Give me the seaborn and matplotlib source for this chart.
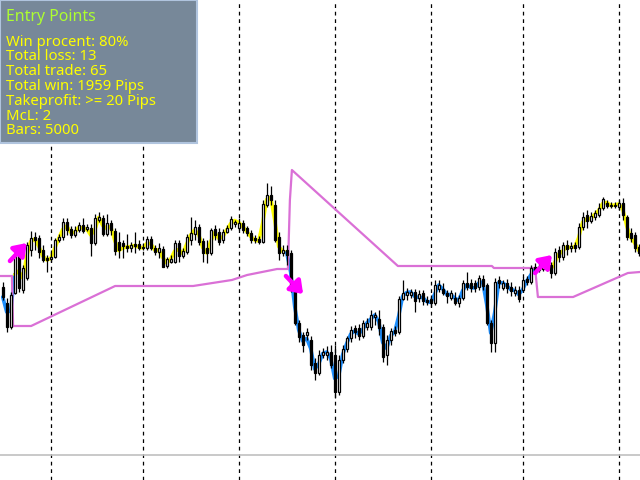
import numpy as np
import pandas as pd
import matplotlib
matplotlib.use("Agg")
import matplotlib.pyplot as plt
import seaborn as sns
from matplotlib.patches import Rectangle

# Candles, in screen units (smaller number = higher price)
opens = [287, 303, 327, 293, 254, 290, 278, 250, 237, 238, 250, 258, 259, 257, 240, 237,
         222, 229, 235, 230, 225, 229, 228, 243, 220, 218, 234, 223, 231, 242, 243, 246,
         248, 244, 244, 247, 248, 239, 248, 252, 249, 266, 262, 262, 243, 256, 252, 240,
         234, 227, 241, 248, 253, 229, 232, 240, 232, 228, 224, 228, 223, 228, 233, 238,
         239, 242, 205, 195, 205, 237, 253, 250, 253, 285, 323, 335, 335, 340, 363, 373,
         355, 355, 352, 355, 392, 360, 349, 338, 328, 328, 336, 327, 327, 317, 319, 327,
         355, 340, 330, 332, 299, 295, 295, 292, 298, 293, 300, 299, 303, 289, 289, 293,
         298, 298, 303, 298, 283, 283, 283, 287, 279, 285, 323, 343, 280, 288, 283, 287,
         293, 290, 290, 279, 282, 267, 270, 269, 269, 265, 273, 250, 257, 245, 248, 245,
         247, 227, 215, 221, 217, 215, 208, 203, 206, 206, 207, 203, 217, 233, 235, 247]
closes = [297, 327, 295, 254, 288, 268, 245, 238, 240, 252, 260, 260, 257, 240, 237, 222,
          230, 235, 230, 225, 231, 227, 243, 218, 217, 234, 223, 230, 251, 250, 246, 248,
          245, 246, 248, 248, 239, 248, 252, 248, 267, 259, 259, 243, 256, 251, 237, 233,
          227, 242, 253, 253, 230, 235, 242, 232, 228, 219, 222, 223, 230, 233, 240, 240,
          242, 204, 195, 200, 240, 253, 250, 255, 290, 323, 337, 345, 332, 365, 373, 355,
          352, 352, 365, 392, 360, 349, 338, 330, 332, 336, 323, 323, 315, 315, 328, 357,
          340, 331, 333, 299, 293, 292, 292, 301, 294, 301, 302, 303, 285, 285, 293, 296,
          293, 303, 298, 283, 287, 288, 288, 278, 286, 323, 343, 282, 283, 283, 288, 291,
          290, 299, 280, 282, 268, 270, 267, 266, 266, 273, 252, 257, 245, 249, 246, 248,
          227, 217, 221, 216, 213, 208, 199, 206, 205, 205, 203, 215, 237, 238, 248, 253]
highs = [282, 298, 292, 248, 250, 265, 242, 231, 232, 235, 245, 255, 250, 238, 234, 218,
         218, 226, 226, 222, 218, 224, 224, 214, 212, 215, 214, 220, 228, 232, 240, 234,
         242, 232, 240, 243, 236, 236, 245, 243, 246, 257, 255, 240, 240, 248, 234, 217,
         220, 224, 238, 240, 228, 225, 228, 229, 225, 216, 220, 218, 220, 226, 230, 235,
         236, 200, 183, 186, 200, 232, 245, 245, 250, 283, 320, 332, 328, 336, 358, 350,
         348, 346, 345, 345, 355, 345, 336, 326, 325, 324, 320, 318, 310, 312, 310, 324,
         335, 328, 326, 296, 280, 288, 289, 289, 290, 290, 296, 295, 280, 280, 283, 290,
         290, 292, 295, 280, 272, 279, 280, 275, 275, 283, 320, 278, 276, 280, 279, 282,
         286, 286, 277, 276, 265, 263, 262, 262, 262, 262, 248, 246, 242, 240, 242, 242,
         223, 212, 210, 212, 210, 203, 197, 200, 202, 202, 200, 198, 215, 228, 232, 244]
lows = [300, 332, 329, 294, 292, 293, 280, 256, 250, 258, 262, 272, 262, 258, 242, 240,
        235, 238, 237, 232, 233, 231, 256, 245, 222, 236, 236, 235, 255, 258, 258, 252,
        252, 253, 250, 250, 250, 250, 255, 258, 267, 268, 263, 263, 262, 258, 254, 245,
        240, 245, 262, 263, 255, 240, 245, 243, 233, 230, 227, 230, 233, 236, 243, 243,
        244, 243, 207, 205, 242, 260, 256, 265, 292, 325, 342, 352, 340, 370, 380, 375,
        358, 360, 368, 398, 395, 363, 352, 342, 338, 340, 338, 330, 330, 325, 335, 362,
        365, 345, 336, 334, 300, 300, 298, 312, 302, 305, 305, 307, 305, 292, 295, 303,
        300, 305, 307, 300, 290, 292, 292, 290, 290, 325, 352, 352, 288, 290, 293, 296,
        296, 302, 292, 285, 284, 273, 272, 271, 271, 278, 275, 262, 260, 255, 252, 252,
        249, 230, 228, 223, 220, 217, 210, 208, 208, 208, 210, 220, 240, 242, 252, 256]

# trailing stop line (orchid), corner points
stop_x = [-0.7, 2.3, 2.6, 7.1, 28.1, 47.6, 57.3, 61.1, 68.6, 71.3, 71.8, 72.3, 98.8,
          122.3, 122.8, 133.1, 133.8, 142.6, 156.3, 159.3]
stop_y = [276, 276, 326, 326, 286, 286, 280, 275, 269, 269, 200, 170, 266,
          266, 268, 268, 297, 297, 273, 272]

# colour of the trend line: (first bar, last bar, colour)
trend_parts = [(0, 3, "#1E90FF"), (3, 71, "#FFFF00"), (71, 134, "#1E90FF"), (134, 159, "#FFFF00")]

# entry arrows: tail x, tail y, tip x, tip y
arrows = [(1.8, 261, 6.0, 243), (70.8, 276, 75.1, 294), (133.1, 273, 137.3, 255)]

day_lines = [12, 35, 59, 83, 107, 130, 154]

box_title = "Entry Points"
box_lines = ["Win procent: 80%", "Total loss: 13", "Total trade: 65",
             "Total win: 1959 Pips", "Takeprofit: >= 20 Pips", "McL: 2", "Bars: 5000"]

sns.set_style("white")
plt.rcParams["font.family"] = ["Noto Sans", "DejaVu Sans"]

fig = plt.figure(figsize=(6.4, 4.8), dpi=100)
ax = fig.add_axes([0, 0, 1, 1])
ax.set_xlim(-0.675, 159.325)
ax.set_ylim(480, 0)
ax.axis("off")

bars = np.arange(len(closes))
df = pd.DataFrame({"bar": bars, "open": opens, "close": closes, "high": highs, "low": lows})
df["trend"] = df["close"].rolling(2, min_periods=1).mean()

# separators and bottom line
for d in day_lines:
    ax.axvline(d, color="black", lw=0.9, ls=(0, (3, 3)), zorder=1)
ax.axhline(455, color="#c0c0c0", lw=1.2, zorder=1)

# trend line behind the candles
for a, b, col in trend_parts:
    part = df[(df["bar"] >= a) & (df["bar"] <= b)]
    sns.lineplot(data=part, x="bar", y="trend", color=col, lw=2.6, ax=ax, zorder=2)

# stop line
sns.lineplot(x=stop_x, y=stop_y, color="#DA70D6", lw=1.6, ax=ax, zorder=3, sort=False)

# candles
ax.vlines(df["bar"], df["high"], df["low"], color="black", lw=0.9, zorder=4)
up = df["close"] <= df["open"]
body_lo = np.minimum(df["open"], df["close"])
body_h = np.abs(df["open"] - df["close"]).clip(lower=0.6)
ax.bar(df["bar"][up], body_h[up], bottom=body_lo[up], width=0.5,
       color="white", edgecolor="black", lw=0.9, zorder=5)
ax.bar(df["bar"][~up], body_h[~up], bottom=body_lo[~up], width=0.5,
       color="black", edgecolor="black", lw=0.9, zorder=5)

# entry arrows
for x0, y0, x1, y1 in arrows:
    ax.annotate("", xy=(x1, y1), xytext=(x0, y0),
                arrowprops=dict(arrowstyle="-|>,head_length=0.7,head_width=0.5",
                                color="#FF00FF", lw=3.2, shrinkA=0, shrinkB=0), zorder=6)

# info panel (top-left corner, 197 x 143 px)
ax.add_patch(Rectangle((-0.675, 0), 49.25, 143, facecolor="#778899",
                       edgecolor="#b0c4de", lw=1.5, zorder=7))
ax.text(0.85, 17, box_title, color="#ADFF2F", fontsize=11.4, va="center", zorder=8)
for i, line in enumerate(box_lines):
    ax.text(0.85, 42 + i * 14.8, line, color="#FFFF00", fontsize=10.7, va="center", zorder=8)

fig.savefig("out.png", dpi=100)
